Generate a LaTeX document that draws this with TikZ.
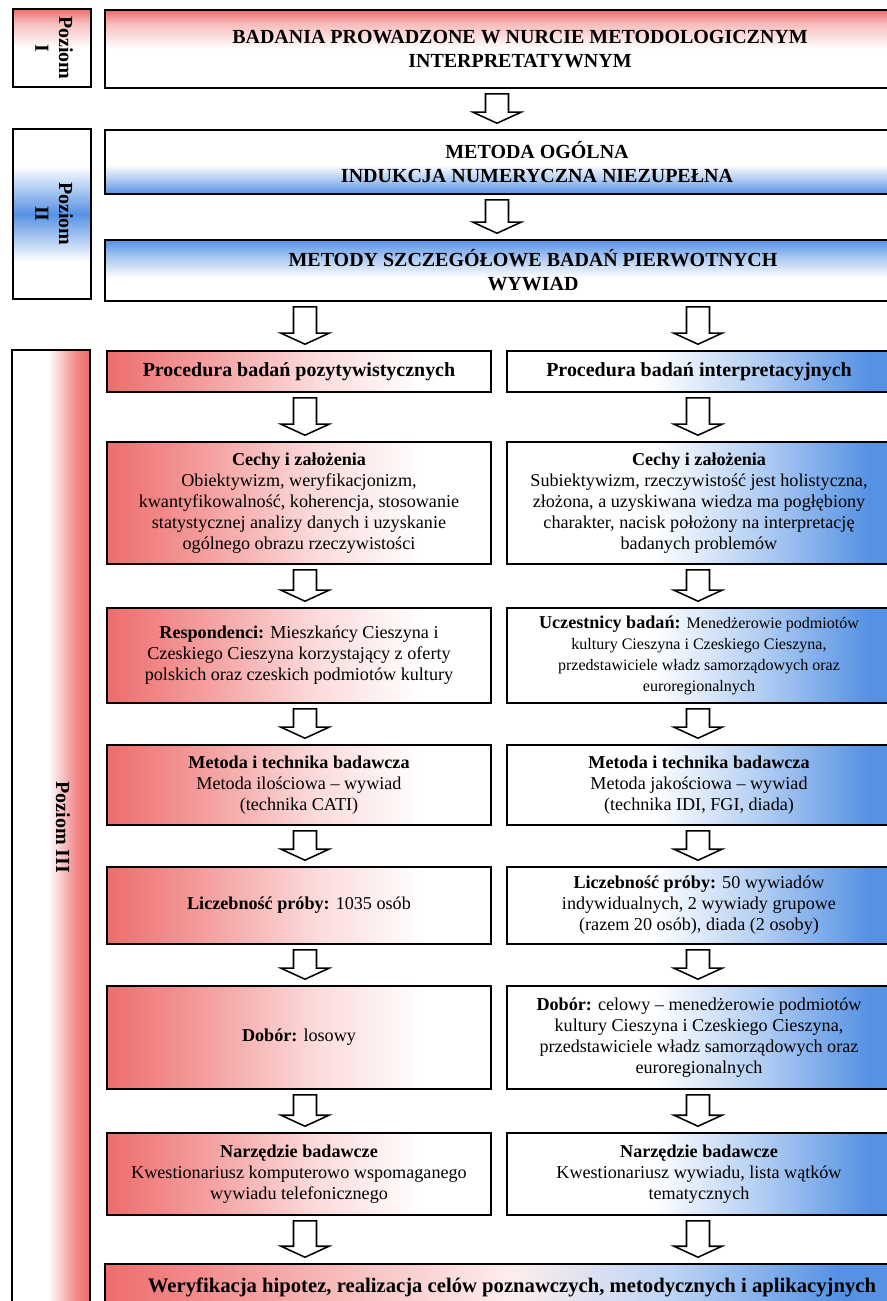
\documentclass[tikz,border=0pt]{standalone}
\usepackage{fontspec}
\usepackage{graphicx}
\setmainfont{Liberation Serif}
\usetikzlibrary{calc}

\definecolor{lvlred}{RGB}{238,108,108}
\definecolor{lvlblue}{RGB}{86,146,228}

\pgfdeclarehorizontalshading{redleft}{100bp}{color(0bp)=(lvlred); color(25bp)=(lvlred); color(38bp)=(lvlred!65!white); color(52bp)=(lvlred!25!white); color(66bp)=(white); color(100bp)=(white)}
\pgfdeclarehorizontalshading{blueright}{100bp}{color(0bp)=(white); color(25bp)=(white); color(44bp)=(white); color(58bp)=(lvlblue!45!white); color(72bp)=(lvlblue); color(100bp)=(lvlblue)}
\pgfdeclarehorizontalshading{redblue}{100bp}{color(0bp)=(lvlred); color(25bp)=(lvlred); color(38bp)=(lvlred!50!white); color(50bp)=(lvlred!12!white); color(60bp)=(lvlblue!40!white); color(70bp)=(lvlblue); color(100bp)=(lvlblue)}
\pgfdeclarehorizontalshading{redrim}{100bp}{color(0bp)=(white); color(25bp)=(white); color(48bp)=(white); color(66bp)=(lvlred!80!white); color(75bp)=(lvlred); color(100bp)=(lvlred)}
\pgfdeclareverticalshading{redtop}{100bp}{color(0bp)=(white); color(50bp)=(white); color(66bp)=(lvlred!45!white); color(75bp)=(lvlred); color(100bp)=(lvlred)}
\pgfdeclareverticalshading{bluebottom}{100bp}{color(0bp)=(lvlblue); color(25bp)=(lvlblue); color(36bp)=(lvlblue!50!white); color(48bp)=(white); color(100bp)=(white)}
\pgfdeclareverticalshading{bluetop}{100bp}{color(0bp)=(white); color(44bp)=(white); color(62bp)=(lvlblue!55!white); color(75bp)=(lvlblue); color(100bp)=(lvlblue)}
\pgfdeclareverticalshading{bluemid}{100bp}{color(0bp)=(white); color(36bp)=(white); color(50bp)=(lvlblue); color(64bp)=(white); color(100bp)=(white)}

\newcommand{\capsfont}{\fontsize{14.2}{17}\selectfont\bfseries}
\newcommand{\bodyfont}{\fontsize{12.9}{15}\selectfont}
\newcommand{\smallerfont}{\fontsize{11.4}{13.2}\selectfont}
\newcommand{\lvltext}[1]{\rotatebox{-90}{\begin{tabular}{@{}c@{}}#1\end{tabular}}}

\tikzset{
  box/.style={draw, line width=1.1pt, align=center, inner sep=2pt, font=\bodyfont, shade},
  lcol/.style={box, minimum width=9.6cm, shading=redleft},
  rcol/.style={box, minimum width=9.6cm, shading=blueright},
  lvl/.style={box, minimum width=1.95cm, font=\capsfont},
  blockarr/.style={draw, line width=1.1pt, fill=white, line join=miter}
}

% hollow down arrow between two boxes, at x = #3
\newcommand{\downblock}[3]{%
  \coordinate (bx) at (#3,0);
  \draw[blockarr] ($(bx |- #1.south)+(-11.5,5)$) -- ($(bx |- #2.north)+(-11.5,-17)$) -- ($(bx |- #2.north)+(-24,-17)$)
    -- ($(bx |- #2.north)+(0,-6)$) -- ($(bx |- #2.north)+(24,-17)$) -- ($(bx |- #2.north)+(11.5,-17)$)
    -- ($(bx |- #1.south)+(11.5,5)$) -- cycle;
}

\begin{document}
\begin{tikzpicture}[x=0.025cm, y=-0.025cm]
\useasboundingbox (0,0) rectangle (887,1301);
\clip (0,0) rectangle (887,1301);

% levels
\node[lvl, minimum height=1.95cm, shading=redtop] (lvlI) at (52,48) {\lvltext{Poziom\\I}};
\node[lvl, minimum height=4.25cm, shading=bluemid] (lvlII) at (52,214) {\lvltext{Poziom\\II}};
\node[lvl, minimum height=23.875cm, shading=redrim] (lvlIII) at (51,827.5) {\hspace*{0.5cm}\lvltext{Poziom III}};

% top
\node[box, minimum width=20.75cm, minimum height=1.95cm, font=\capsfont, shading=redtop] (nurt) at (520,49)
  {BADANIA PROWADZONE W NURCIE METODOLOGICZNYM\\INTERPRETATYWNYM};
\node[box, minimum width=21.6cm, minimum height=1.6cm, font=\capsfont, shading=bluebottom] (ogolna) at (537,162)
  {METODA OGÓLNA\\INDUKCJA NUMERYCZNA NIEZUPEŁNA};
\node[box, minimum width=21.4cm, minimum height=1.525cm, font=\capsfont, shading=bluetop] (szczeg) at (533,270.5)
  {METODY SZCZEGÓŁOWE BADAŃ PIERWOTNYCH\\WYWIAD};

% two columns
\node[lcol, minimum height=1.025cm, font=\capsfont] (procL) at (299,371.5) {Procedura badań pozytywistycznych};
\node[rcol, minimum height=1.025cm, font=\capsfont] (procR) at (699,371.5) {Procedura badań interpretacyjnych};

\node[lcol, minimum height=3.05cm] (cechL) at (299,503) {\textbf{Cechy i założenia}\\Obiektywizm, weryfikacjonizm,\\kwantyfikowalność, koherencja, stosowanie\\statystycznej analizy danych i uzyskanie\\ogólnego obrazu rzeczywistości};
\node[rcol, minimum height=3.05cm] (cechR) at (699,503) {\textbf{Cechy i założenia}\\Subiektywizm, rzeczywistość jest holistyczna,\\złożona, a uzyskiwana wiedza ma pogłębiony\\charakter,  nacisk położony na interpretację\\badanych problemów};

\node[lcol, minimum height=2.375cm] (respL) at (299,655.5) {\textbf{Respondenci:} Mieszkańcy Cieszyna i\\Czeskiego Cieszyna korzystający z oferty\\polskich oraz czeskich podmiotów kultury};
\node[rcol, minimum height=2.375cm] (respR) at (699,655.5) {\textbf{Uczestnicy badań:} {\smallerfont Menedżerowie podmiotów}\\{\smallerfont kultury Cieszyna i Czeskiego Cieszyna,}\\{\smallerfont przedstawiciele władz samorządowych oraz}\\{\smallerfont euroregionalnych}};

\node[lcol, minimum height=2cm] (metL) at (299,785) {\textbf{Metoda i technika badawcza}\\Metoda ilościowa –  wywiad\\(technika CATI)};
\node[rcol, minimum height=2cm] (metR) at (699,785) {\textbf{Metoda i technika badawcza}\\Metoda jakościowa – wywiad\\(technika IDI, FGI, diada)};

\node[lcol, minimum height=1.925cm] (liczL) at (299,905.5) {\textbf{Liczebność próby:} 1035 osób};
\node[rcol, minimum height=1.925cm] (liczR) at (699,905.5) {\textbf{Liczebność próby:} 50 wywiadów\\indywidualnych, 2 wywiady grupowe\\(razem 20 osób), diada (2 osoby)};

\node[lcol, minimum height=2.575cm] (dobL) at (299,1037.5) {\textbf{Dobór:} losowy};
\node[rcol, minimum height=2.575cm] (dobR) at (699,1037.5) {\textbf{Dobór:}  celowy – menedżerowie podmiotów\\kultury Cieszyna i Czeskiego Cieszyna,\\przedstawiciele  władz samorządowych oraz\\euroregionalnych};

\node[lcol, minimum height=2.05cm] (narzL) at (299,1174) {\textbf{Narzędzie badawcze}\\Kwestionariusz komputerowo wspomaganego\\wywiadu telefonicznego};
\node[rcol, minimum height=2.05cm] (narzR) at (699,1174) {\textbf{Narzędzie badawcze}\\Kwestionariusz wywiadu, lista wątków\\tematycznych};

\node[box, minimum width=20.35cm, minimum height=1.15cm, font=\fontsize{14.7}{17}\selectfont\bfseries, shading=redblue] (wer) at (512,1287)
  {Weryfikacja hipotez, realizacja celów poznawczych, metodycznych i aplikacyjnych};

% arrows
\downblock{nurt}{ogolna}{497}
\downblock{ogolna}{szczeg}{497}
\downblock{szczeg}{procL}{305}
\downblock{szczeg}{procR}{698}
\foreach \a/\b in {procL/cechL, cechL/respL, respL/metL, metL/liczL, liczL/dobL, dobL/narzL, narzL/wer}
  \downblock{\a}{\b}{305};
\foreach \a/\b in {procR/cechR, cechR/respR, respR/metR, metR/liczR, liczR/dobR, dobR/narzR, narzR/wer}
  \downblock{\a}{\b}{698};
\end{tikzpicture}
\end{document}
